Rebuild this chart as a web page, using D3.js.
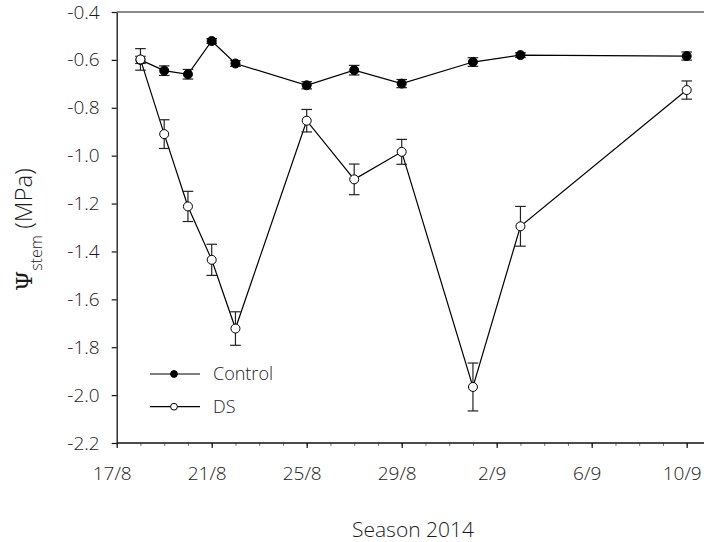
<!DOCTYPE html>
<html>
<head>
<meta charset="utf-8">
<script src="https://cdn.jsdelivr.net/npm/d3@7"></script>
<style>
  body { margin: 0; background: #fff; }
  svg { display: block; }
  text { font-family: "Open Sans", sans-serif; font-weight: 300; fill: #1a1a1a; }
</style>
</head>
<body>
<svg id="chart" width="704" height="542"></svg>
<script>
// Stem water potential, season 2014 (mean ± SE)
const dates = ["2014-08-18", "2014-08-19", "2014-08-20", "2014-08-21", "2014-08-22",
               "2014-08-25", "2014-08-27", "2014-08-29", "2014-09-01", "2014-09-03", "2014-09-10"];
const controlMean = [-0.600, -0.645, -0.660, -0.521, -0.615, -0.706, -0.643, -0.699, -0.609, -0.580, -0.584];
const controlErr  = [0.015, 0.020, 0.020, 0.010, 0.012, 0.015, 0.020, 0.017, 0.018, 0.010, 0.017];
const dsMean = [-0.598, -0.910, -1.212, -1.435, -1.722, -0.854, -1.099, -0.984, -1.966, -1.295, -0.726];
const dsErr  = [0.045, 0.060, 0.063, 0.065, 0.070, 0.047, 0.064, 0.052, 0.100, 0.083, 0.038];
const xTickDates = ["2014-08-17", "2014-08-21", "2014-08-25", "2014-08-29", "2014-09-02", "2014-09-06", "2014-09-10"];
const yTickValues = [-2.2, -2.0, -1.8, -1.6, -1.4, -1.2, -1.0, -0.8, -0.6, -0.4];
const seriesNames = ["Control", "DS"];

const W = 704, H = 542;
const plotLeft = 116.7, plotRight = 686.7, plotTop = 12, plotBottom = 443;

const parse = d3.utcParse("%Y-%m-%d");
const svg = d3.select("#chart");

const x = d3.scaleUtc()
  .domain([parse("2014-08-17"), parse("2014-09-10")])
  .range([plotLeft, plotRight]);
const y = d3.scaleLinear()
  .domain([-2.2, -0.4])
  .range([plotBottom, plotTop]);

const fmtDate = d3.utcFormat("%-d/%-m");
const fmtVal = v => v.toFixed(1);

// frame line along the top
svg.append("line")
  .attr("x1", plotLeft).attr("x2", W)
  .attr("y1", plotTop).attr("y2", plotTop)
  .attr("stroke", "#666").attr("stroke-width", 1.6);

// minor daily ticks
svg.append("g")
  .attr("transform", `translate(0,${plotBottom})`)
  .call(d3.axisBottom(x).ticks(d3.utcDay.every(1)).tickSize(3).tickSizeOuter(0).tickFormat(""))
  .call(g => g.select(".domain").remove())
  .call(g => g.selectAll(".tick line").attr("stroke", "#777"));

// major x axis
svg.append("g")
  .attr("transform", `translate(0,${plotBottom})`)
  .call(d3.axisBottom(x).tickValues(xTickDates.map(parse)).tickSize(5).tickSizeOuter(0)
    .tickPadding(19).tickFormat(fmtDate))
  .call(g => g.select(".domain").remove())
  .call(g => g.selectAll(".tick line").attr("stroke", "#111").attr("stroke-width", 1.2))
  .call(g => g.selectAll("text").attr("font-size", 19).attr("dx", -5));

svg.append("line")
  .attr("x1", plotLeft).attr("x2", W)
  .attr("y1", plotBottom).attr("y2", plotBottom)
  .attr("stroke", "#111").attr("stroke-width", 1.3);

// y axis
svg.append("g")
  .attr("transform", `translate(${plotLeft},0)`)
  .call(d3.axisLeft(y).tickValues(yTickValues).tickSize(5).tickSizeOuter(0)
    .tickPadding(12).tickFormat(fmtVal))
  .call(g => g.select(".domain").attr("stroke", "#111").attr("stroke-width", 1.3))
  .call(g => g.selectAll(".tick line").attr("stroke", "#111").attr("stroke-width", 1.2))
  .call(g => g.selectAll("text").attr("font-size", 19));

// series
const series = [
  { name: seriesNames[0], mean: controlMean, err: controlErr, fill: "#000" },
  { name: seriesNames[1], mean: dsMean, err: dsErr, fill: "#fff" }
];

const line = d3.line()
  .x(d => x(d.date))
  .y(d => y(d.v));

series.forEach(s => {
  const pts = dates.map((d, i) => ({ date: parse(d), v: s.mean[i], e: s.err[i] }));
  const g = svg.append("g");

  g.append("path")
    .datum(pts)
    .attr("d", line)
    .attr("fill", "none")
    .attr("stroke", "#000")
    .attr("stroke-width", 1.2);

  const eb = g.append("g").attr("stroke", "#222").attr("stroke-width", 1.2);
  eb.selectAll("line.bar").data(pts).join("line")
    .attr("class", "bar")
    .attr("x1", d => x(d.date)).attr("x2", d => x(d.date))
    .attr("y1", d => y(d.v + d.e)).attr("y2", d => y(d.v - d.e));
  eb.selectAll("line.capTop").data(pts).join("line")
    .attr("class", "capTop")
    .attr("x1", d => x(d.date) - 5.3).attr("x2", d => x(d.date) + 5.3)
    .attr("y1", d => y(d.v + d.e)).attr("y2", d => y(d.v + d.e));
  eb.selectAll("line.capBot").data(pts).join("line")
    .attr("class", "capBot")
    .attr("x1", d => x(d.date) - 5.3).attr("x2", d => x(d.date) + 5.3)
    .attr("y1", d => y(d.v - d.e)).attr("y2", d => y(d.v - d.e));

  g.selectAll("circle").data(pts).join("circle")
    .attr("cx", d => x(d.date))
    .attr("cy", d => y(d.v))
    .attr("r", 4.5)
    .attr("fill", s.fill)
    .attr("stroke", "#000")
    .attr("stroke-width", 1);
});

// legend
const legend = svg.append("g");
series.forEach((s, i) => {
  const ly = 374 + i * 32.7;
  legend.append("line")
    .attr("x1", 150).attr("x2", 200)
    .attr("y1", ly).attr("y2", ly)
    .attr("stroke", "#000").attr("stroke-width", 1.2);
  legend.append("circle")
    .attr("cx", 174).attr("cy", ly).attr("r", 3.4)
    .attr("fill", s.fill).attr("stroke", "#000").attr("stroke-width", 1);
  legend.append("text")
    .attr("x", 213).attr("y", ly).attr("dy", "0.36em")
    .attr("font-size", 18)
    .text(s.name);
});

// axis titles
svg.append("text")
  .attr("x", 413).attr("y", 537)
  .attr("text-anchor", "middle")
  .attr("font-size", 21)
  .text("Season 2014");

const yTitle = svg.append("text")
  .attr("transform", "translate(32,291) rotate(-90)")
  .attr("text-anchor", "start")
  .attr("font-size", 24);
yTitle.append("tspan")
  .style("font-family", "'DejaVu Serif', 'Liberation Serif', serif")
  .style("font-weight", 400)
  .attr("font-size", 23)
  .text("Ψ");
yTitle.append("tspan")
  .attr("font-size", 16)
  .attr("dy", 10)
  .text("stem");
yTitle.append("tspan")
  .attr("dy", -10)
  .text(" (MPa)");
</script>
</body>
</html>
